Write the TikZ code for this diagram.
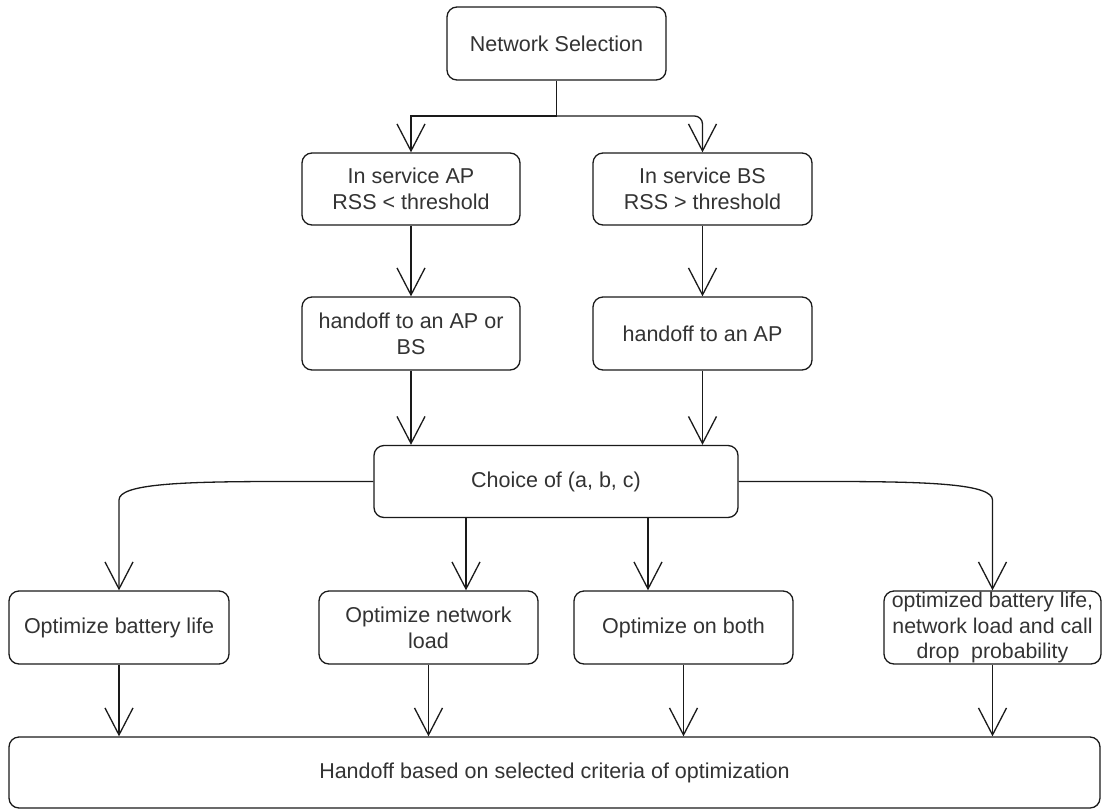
\documentclass[tikz,border=0pt]{standalone}
\usepackage{fontspec}
\setmainfont{Liberation Sans}
\usetikzlibrary{arrows.meta}
\definecolor{ink}{HTML}{1A1A1A}
\definecolor{txt}{HTML}{333333}

\begin{document}
\begin{tikzpicture}[x=1pt,y=-1pt,
  box/.style={draw=ink, line width=1.3pt, rounded corners=10pt, fill=white,
    text=txt, align=center, inner sep=0pt, minimum width=219pt, minimum height=72pt,
    font=\fontsize{21.5}{26}\selectfont},
  link/.style={draw=ink, line width=1.3pt},
  arr/.style={link, -{Straight Barb[length=27pt,width=28pt,line width=1.3pt]}},
]
\useasboundingbox (0,0) rectangle (1103,809);

% boxes
\node[box, minimum height=73pt] (ns) at (556.5,43.5) {Network Selection};
\node[box, minimum width=218pt] (ap) at (411,189) {In service AP\\RSS < threshold};
\node[box] (bs) at (702.5,189) {In service BS\\RSS > threshold};
\node[box, minimum width=218pt, minimum height=73pt] (ho1) at (411,333.5) {handoff to an AP or\\BS};
\node[box, minimum height=73pt] (ho2) at (702.5,333.5) {handoff to an AP};
\node[box, minimum width=364pt] (ch) at (556,481.5) {Choice of (a, b, c)};
\node[box, minimum width=220pt, minimum height=73pt] (bat) at (119,627.5) {Optimize battery life};
\node[box, minimum height=73pt] (nl) at (428.5,627.5) {Optimize network\\load};
\node[box, minimum height=73pt] (both) at (683.5,627.5) {Optimize on both};
\node[box, minimum width=217pt, minimum height=73pt, font=\fontsize{21.3}{25.5}\selectfont]
  (opt) at (992.5,627.5) {optimized battery life,\\network load and call\\drop\ \ probability};
\node[box, minimum width=1091pt, minimum height=71pt] (fin) at (554.5,772.5)
  {Handoff based on selected criteria of optimization};

% split below the first box
\coordinate (split) at (556.5,116);
\draw[link] (ns.south) -- (split);
\draw[arr] (split) -| (ap.north);
\draw[arr, rounded corners=8pt] (split) -| (bs.north);

% second and third rows
\draw[arr] (ap.south) -- (ho1.north);
\draw[arr] (bs.south) -- (ho2.north);
\draw[arr] (ho1.south) -- (ho1.south |- ch.north);
\draw[arr] (ho2.south) -- (ho2.south |- ch.north);

% branches out of the choice box
\draw[arr] (ch.west) -- (280,481.5) .. controls (180,481.5) and (119,484) .. (119,500) -- (bat.north);
\draw[arr] (ch.east) -- (830,481.5) .. controls (930,481.5) and (992.5,484) .. (992.5,500) -- (opt.north);
\draw[arr] ([xshift=-90pt]ch.south) -- ([xshift=-90pt]ch.south |- nl.north);
\draw[arr] ([xshift=92pt]ch.south) -- ([xshift=92pt]ch.south |- both.north);

% into the final box
\draw[arr] (bat.south) -- (bat.south |- fin.north);
\draw[arr] (nl.south) -- (nl.south |- fin.north);
\draw[arr] (both.south) -- (both.south |- fin.north);
\draw[arr] (opt.south) -- (opt.south |- fin.north);
\end{tikzpicture}
\end{document}
